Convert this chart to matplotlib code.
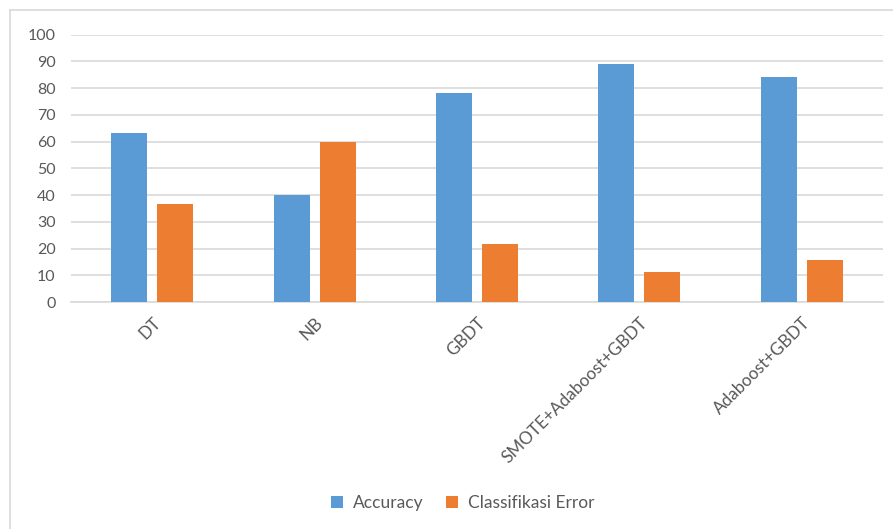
import matplotlib.pyplot as plt
import numpy as np
from matplotlib.lines import Line2D

plt.rcParams['font.family'] = ['Lato', 'DejaVu Sans']

methods = ["DT", "NB", "GBDT", "SMOTE+Adaboost+GBDT", "Adaboost+GBDT"]
accuracy = [63.2, 40.0, 78.2, 88.9, 84.3]
class_error = [36.8, 60.0, 21.8, 11.1, 15.7]

text_col = "#595959"
grid_col = "#d9d9d9"

fig = plt.figure(figsize=(8.93, 5.29), dpi=100)
ax = fig.add_axes([71/893, 1-302/529, (883-71)/893, (302-34.7)/529])

x = np.arange(len(methods))
w = 0.222
off = 0.142
ax.bar(x - off, accuracy, w, color="#5B9BD5", label="Accuracy", zorder=3)
ax.bar(x + off, class_error, w, color="#ED7D31", label="Classifikasi Error", zorder=3)

ax.set_xlim(-0.5, len(methods) - 0.5)
ax.set_ylim(0, 100)
ax.set_yticks(np.arange(0, 101, 10))
ax.yaxis.grid(True, color=grid_col, lw=1.2, zorder=0)
ax.set_axisbelow(True)
for s in ["top", "right", "left"]:
    ax.spines[s].set_visible(False)
ax.spines["bottom"].set_color(grid_col)
ax.spines["bottom"].set_linewidth(1.2)

ax.set_xticks(x)
ax.set_xticklabels(methods, rotation=45, ha="right", rotation_mode="anchor")
ax.tick_params(axis="both", length=0, colors=text_col)
ax.tick_params(axis="y", pad=11, labelsize=11.5)
ax.tick_params(axis="x", pad=9, labelsize=12.3)

# chart frame (top and left edges only, rest is off-canvas)
fig.add_artist(Line2D([10/893, 10/893], [0, 1-10/529], transform=fig.transFigure,
                      color=grid_col, lw=1.2))
fig.add_artist(Line2D([10/893, 1], [1-10/529, 1-10/529], transform=fig.transFigure,
                      color=grid_col, lw=1.2))

fig.legend(loc="center", bbox_to_anchor=(463/893, 1-503/529), ncol=2, frameon=False,
           fontsize=12.5, labelcolor=text_col, handlelength=0.65, handleheight=0.65,
           columnspacing=1.3, handletextpad=0.6)

fig.savefig("out.png", dpi=100)
